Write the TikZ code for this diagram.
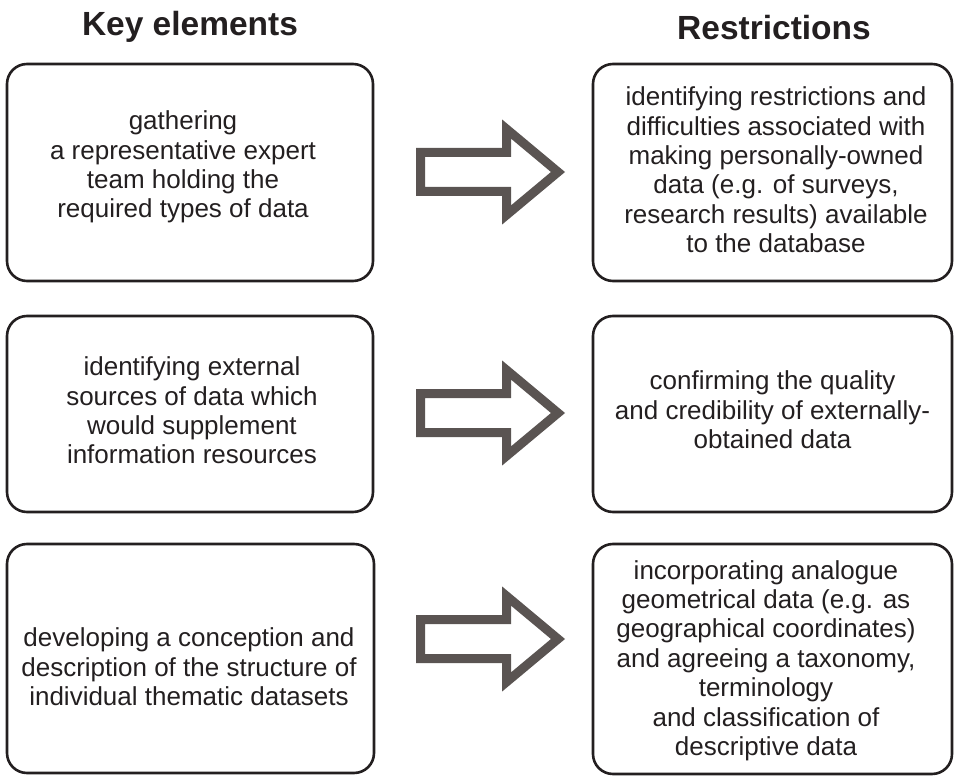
\documentclass[tikz,border=0pt]{standalone}
\usepackage{fontspec}
\setmainfont{Liberation Sans}
\usetikzlibrary{calc}
\definecolor{inkdark}{HTML}{231F20}
\definecolor{arrowgray}{HTML}{5A5452}
\begin{document}
\begin{tikzpicture}[x=1pt, y=-1pt,
  heading/.style={font=\fontsize{33.5}{38}\selectfont\bfseries, text=inkdark, inner sep=0, anchor=base},
  frame/.style={draw=inkdark, line width=2.6pt, rounded corners=20pt, inner sep=0, minimum width=#1},
  label/.style={align=center, font=\fontsize{26}{29.4}\selectfont, text=inkdark, inner sep=0},
  arrowline/.style={draw=arrowgray, line width=9pt, line join=miter, miter limit=10},
  blockarrow/.pic={\draw[arrowline] (0,-19.5) -- (86,-19.5) -- (86,-43) -- (137.5,0)
      -- (86,43) -- (86,19.5) -- (0,19.5) -- cycle;}]
  \useasboundingbox (0,0) rectangle (954,778);

  % column headings
  \node[heading] (hkey) at (190,36) {Key elements};
  \node[heading] (hres) at (774,40) {Restrictions};

  % key element frames
  \node[frame=366, minimum height=217] (kb1) at (190,172.5) {};
  \node[frame=366, minimum height=196] (kb2) at (190,414) {};
  \node[frame=367, minimum height=229] (kb3) at (190.5,658.5) {};

  % restriction frames
  \node[frame=359, minimum height=217] (rb1) at (772.5,172.5) {};
  \node[frame=359, minimum height=196] (rb2) at (772.5,414) {};
  \node[frame=359, minimum height=230] (rb3) at (772.5,659) {};

  % frame texts
  \node[label] (kt1) at ($(kb1)+(-7,-5.5)$) {gathering\\a representative expert\\team holding the\\required types of data};
  \node[label] (kt2) at ($(kb2)+(2,-3.5)$) {identifying external\\sources of data which\\would supplement\\information resources};
  \node[label] (kt3) at ($(kb3)+(-1.5,8.5)$) {developing a conception and\\description of the structure of\\individual thematic datasets};
  \node[label] (rt1) at ($(rb1)+(3.5,-2.5)$) {identifying restrictions and\\difficulties associated with\\making personally-owned\\data (e.g. of surveys,\\research results) available\\to the database};
  \node[label] (rt2) at ($(rb2)+(0,-4)$) {confirming the quality\\and credibility of externally-\\obtained data};
  \node[label] (rt3) at ($(rb3)+(-6.5,1.5)$) {incorporating analogue\\geometrical data (e.g. as\\geographical coordinates)\\and agreeing a taxonomy,\\terminology\\and classification of\\descriptive data};

  % hollow block arrows between the columns
  \coordinate (a1) at (420.5,172);
  \coordinate (a2) at (420.5,413);
  \coordinate (a3) at (420.5,639);
  \pic at (a1) {blockarrow};
  \pic at (a2) {blockarrow};
  \pic at (a3) {blockarrow};
\end{tikzpicture}
\end{document}
